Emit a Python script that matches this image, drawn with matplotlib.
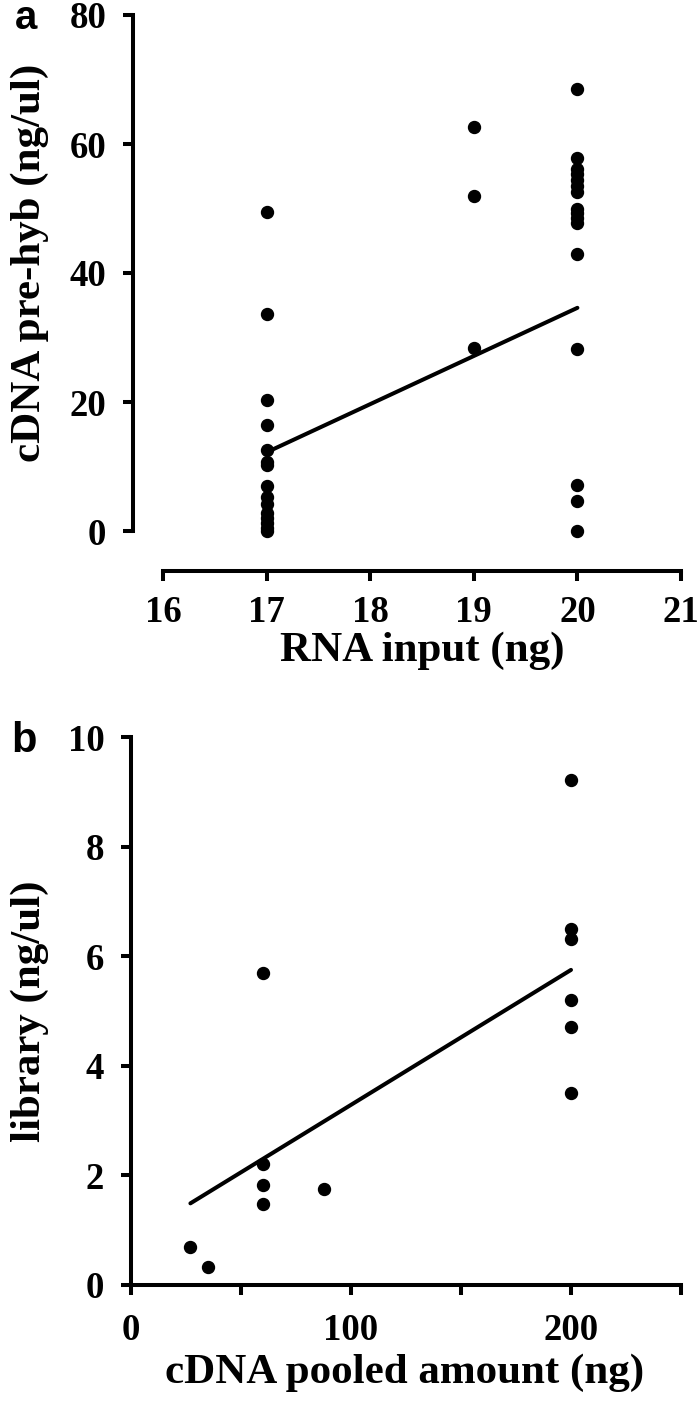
import matplotlib
matplotlib.use("Agg")
import matplotlib.pyplot as plt
from matplotlib.ticker import MultipleLocator

# ---------------- data: panel a ----------------
rna_input_ng = [17, 17, 17, 17, 17, 17, 17, 17, 17, 17, 17, 17, 17, 17, 17,
                19, 19, 19,
                20, 20, 20, 20, 20, 20, 20, 20, 20, 20, 20, 20, 20, 20, 20, 20]
cdna_prehyb = [49.4, 33.6, 20.3, 16.5, 12.6, 10.7, 10.2, 7.0, 5.3, 4.2, 2.8, 2.0, 1.2, 0.5, 0.0,
               62.7, 51.9, 28.3,
               68.6, 57.9, 56.2, 55.3, 54.4, 53.5, 52.5, 50.0, 49.3, 48.5, 47.8, 42.9, 28.2, 7.2, 4.7, 0.0]
fit_a_x = [17, 20]
fit_a_y = [12.2, 34.6]

# ---------------- data: panel b ----------------
cdna_pooled_ng = [27, 35, 60, 60, 60, 60, 87.6, 200, 200, 200, 200, 200, 200]
library_conc = [0.7, 0.33, 2.2, 1.82, 1.47, 5.7, 1.75, 9.22, 6.5, 6.31, 5.2, 4.7, 3.5]
fit_b_x = [27, 200]
fit_b_y = [1.49, 5.75]

a_xticks = [16, 17, 18, 19, 20, 21]
a_yticks = [0, 20, 40, 60, 80]
b_xticks = [0, 100, 200]
b_yticks = [0, 2, 4, 6, 8, 10]

SERIF = "Liberation Serif"
SANS = "Liberation Sans"
TICK_FS = 26.5
LABEL_FS = 31
LW = 2.9
PX = 72 / 100.0  # points per pixel at dpi 100

W, H = 697, 1405
fig = plt.figure(figsize=(W / 100, H / 100), dpi=100)


def style(ax, xpad):
    for s in ("top", "right"):
        ax.spines[s].set_visible(False)
    for s in ("left", "bottom"):
        ax.spines[s].set_linewidth(LW)
        ax.spines[s].set_color("black")
    ax.tick_params(which="both", direction="out", length=10 * PX, width=LW,
                   color="black")
    ax.tick_params(axis="y", pad=12)
    ax.tick_params(axis="x", pad=xpad)
    for lab in ax.get_xticklabels() + ax.get_yticklabels():
        lab.set_fontfamily(SERIF)
        lab.set_fontweight("bold")
        lab.set_fontsize(TICK_FS)


# ---------------- panel a ----------------
ax1 = fig.add_axes([163 / W, 1 - 531 / H, (681 - 163) / W, (531 - 15) / H])
ax1.plot(rna_input_ng, cdna_prehyb, "o", color="black", ms=8.6, clip_on=False, zorder=3)
ax1.plot(fit_a_x, fit_a_y, "-", color="black", lw=LW, solid_capstyle="round")
ax1.set_xlim(16, 21)
ax1.set_ylim(0, 80)
ax1.set_xticks(a_xticks)
ax1.set_yticks(a_yticks)
ax1.spines["left"].set_position(("outward", 30 * PX))
ax1.spines["bottom"].set_position(("outward", 40 * PX))
style(ax1, 10)

# ---------------- panel b ----------------
ax2 = fig.add_axes([131 / W, 1 - 1285 / H, (681 - 131) / W, (1285 - 737) / H])
ax2.plot(cdna_pooled_ng, library_conc, "o", color="black", ms=8.6, clip_on=False, zorder=3)
ax2.plot(fit_b_x, fit_b_y, "-", color="black", lw=LW, solid_capstyle="round")
ax2.set_xlim(0, 250)
ax2.set_ylim(0, 10)
ax2.set_xticks(b_xticks)
ax2.xaxis.set_minor_locator(MultipleLocator(50))
ax2.set_yticks(b_yticks)
style(ax2, 13)

# ---------------- labels ----------------
lab_kw = dict(fontfamily=SERIF, fontweight="bold", fontsize=LABEL_FS, color="black")
fig.text(422 / W, 1 - 651 / H, "RNA input (ng)", ha="center", va="center", **lab_kw)
fig.text(30 / W, 1 - 263 / H, "cDNA pre-hyb (ng/ul)", ha="center", va="center",
         rotation=90, **lab_kw)
fig.text(405 / W, 1 - 1373 / H, "cDNA pooled amount (ng)", ha="center", va="center", **lab_kw)
fig.text(30 / W, 1 - 1011 / H, "library (ng/ul)", ha="center", va="center",
         rotation=90, **lab_kw)

fig.text(26 / W, 1 - 29 / H, "a", ha="center", va="baseline", fontfamily=SANS,
         fontweight="bold", fontsize=29)
fig.text(24 / W, 1 - 752 / H, "b", ha="center", va="baseline", fontfamily=SANS,
         fontweight="bold", fontsize=30)

fig.savefig("out.png", dpi=100, facecolor="white")
